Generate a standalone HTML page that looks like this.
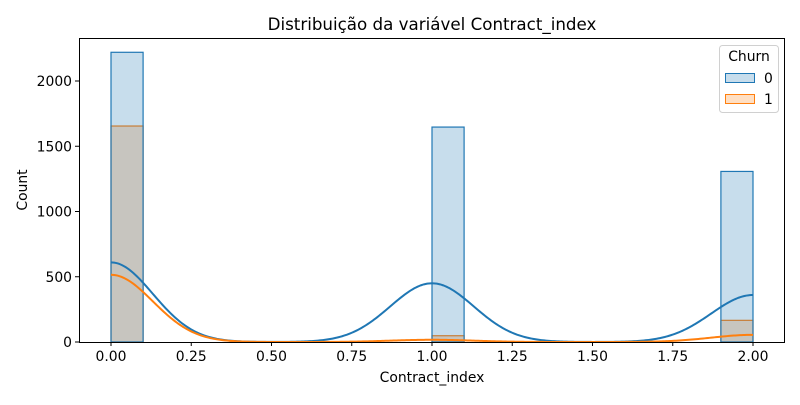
<!DOCTYPE html>
<html><head><meta charset="utf-8"><style>
body{margin:0;background:#fff}
svg{font-family:"DejaVu Sans","Liberation Sans",sans-serif}
</style></head><body>
<svg id="chart" width="800" height="400">
<rect width="800" height="400" fill="#fff"/>
<text x="432" y="30" text-anchor="middle" font-size="16.7">Distribuição da variável Contract_index</text>
<g id="bars"></g><g id="kde"></g><g id="axes"></g>
<text x="432" y="382" text-anchor="middle" font-size="13.9">Contract_index</text>
<text transform="translate(27,190) rotate(-90)" text-anchor="middle" font-size="13.9">Count</text>
<g>
<rect x="719.5" y="45.5" width="59" height="67" rx="3" fill="#fff" stroke="#ccc" opacity="0.9"/>
<text x="749" y="61" text-anchor="middle" font-size="13.9">Churn</text>
<rect x="725.5" y="73.5" width="29" height="9" fill="rgba(31,119,180,0.25)" stroke="#1f77b4"/>
<text x="764" y="83" font-size="13.9">0</text>
<rect x="725.5" y="94.5" width="29" height="9" fill="rgba(255,127,14,0.25)" stroke="#ff7f0e"/>
<text x="764" y="104" font-size="13.9">1</text>
</g>
</svg>
<script>
const binStarts=[0.0,1.0,1.9];
const churn0=[2220,1647,1307];
const churn1=[1655,48,166];
const binWidth=0.1;
const kdeCenters=[0,1,2];
const kde0=[610,450,360];
const kde1=[515,17,55];
const kdeBw=0.13;
const xTicks=[0,0.25,0.5,0.75,1.0,1.25,1.5,1.75,2.0];
const xTickLabels=["0.00","0.25","0.50","0.75","1.00","1.25","1.50","1.75","2.00"];
const yTicks=[0,500,1000,1500,2000];
const L=79,R=785,T=38,B=342;
const xs=v=>111+v*321, ys=v=>342-v*0.1305;
const NS="http://www.w3.org/2000/svg";
function mk(tag,attrs,parent){const e=document.createElementNS(NS,tag);for(const k in attrs)e.setAttribute(k,attrs[k]);parent.appendChild(e);return e;}
const bars=document.getElementById('bars');
[[churn1,'rgba(255,127,14,0.25)','#ff7f0e','churn1'],[churn0,'rgba(31,119,180,0.25)','#1f77b4','churn0']].forEach(([arr,fill,stroke,nm])=>{
 arr.forEach((v,i)=>{
  const x0=xs(binStarts[i]),x1=xs(binStarts[i]+binWidth);
  const r=mk('rect',{x:x0,y:ys(v),width:x1-x0,height:ys(0)-ys(v),fill:fill,stroke:stroke,'stroke-width':1.2},bars);
  
  
 });
});
const kde=document.getElementById('kde');
[[kde0,'#1f77b4','kde-churn0'],[kde1,'#ff7f0e','kde-churn1']].forEach(([h,c,nm])=>{
 let d='';
 for(let i=0;i<=400;i++){const x=2*i/400;let y=0;kdeCenters.forEach((m,j)=>{y+=h[j]*Math.exp(-((x-m)**2)/(2*kdeBw*kdeBw));});
  d+=(i?'L':'M')+xs(x).toFixed(2)+','+ys(y).toFixed(2);}
 const p=mk('path',{d:d,fill:'none',stroke:c,'stroke-width':2},kde);
 
 
});
const ax=document.getElementById('axes');
const fr=mk('rect',{x:L+0.5,y:T+0.5,width:R-L-1,height:B-T,fill:'none',stroke:'#000','stroke-width':1},ax);


xTicks.forEach((v,i)=>{
 const x=xs(v);
 mk('line',{x1:x,x2:x,y1:B,y2:B+4,stroke:'#000'},ax);
 const t=mk('text',{x:x,y:B+19,'text-anchor':'middle','font-size':13.9},ax);t.textContent=xTickLabels[i];
 
 
});
yTicks.forEach(v=>{
 const y=ys(v);
 mk('line',{x1:L-4,x2:L,y1:y,y2:y,stroke:'#000'},ax);
 const t=mk('text',{x:L-7,y:y+5,'text-anchor':'end','font-size':13.9},ax);t.textContent=v;
 
 
});
</script>
</body></html>
